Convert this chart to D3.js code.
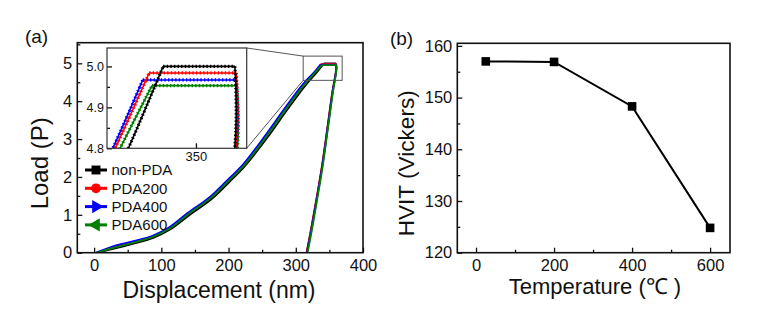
<!DOCTYPE html>
<html lang="en">
<head>
<meta charset="UTF-8">
<title>Load-displacement curves and HVIT</title>
<script src="https://cdn.jsdelivr.net/npm/d3@7"></script>
<style>
  body { margin: 0; background: #fff; }
  text { font-family: "Liberation Sans", Arial, sans-serif; fill: #111; }
</style>
</head>
<body>
<div id="container"></div>
<script>
// ---- panel (a): load vs displacement, one pair of arrays per sample ----
const nonPdaDisp = [5, 28, 63, 88, 113, 143, 177, 202, 222, 257, 286, 316, 333.1, 341.8, 359.75, 360, 354, 347, 339, 330.5, 322.5, 316]
const nonPdaLoad = [0, 0.10, 0.26, 0.39, 0.61, 1.01, 1.45, 1.88, 2.24, 3.02, 3.74, 4.45, 4.80, 5.00, 5.00, 4.85, 4.2, 3.3, 2.3, 1.4, 0.6, 0]
const pda200Disp = [4, 26, 61, 87, 111, 141, 175, 200, 220, 255, 284, 314, 329.8, 338.3, 360.1, 360.3, 354.3, 347.3, 339.3, 330.8, 322.8, 316.3]
const pda200Load = [0, 0.13, 0.295, 0.43, 0.64, 1.05, 1.49, 1.92, 2.27, 3.07, 3.79, 4.49, 4.80, 4.984, 4.984, 4.85, 4.2, 3.3, 2.3, 1.4, 0.6, 0]
const pda400Disp = [3, 25, 60, 86, 110, 140, 174, 199, 219, 254, 283, 313, 329.2, 336.7, 360.1, 360.4, 354.5, 347.6, 339.7, 331.2, 323.3, 316.8]
const pda400Load = [0, 0.15, 0.31, 0.44, 0.65, 1.06, 1.50, 1.93, 2.28, 3.08, 3.80, 4.50, 4.80, 4.967, 4.967, 4.85, 4.2, 3.3, 2.3, 1.4, 0.6, 0]
const pda600Disp = [5, 27, 62, 87, 112, 141.5, 175.5, 200.5, 220.5, 255.5, 284.5, 314.5, 331, 339, 360.2, 360.6, 355, 348, 340.2, 331.8, 324, 317.5]
const pda600Load = [0, 0.12, 0.28, 0.415, 0.63, 1.035, 1.475, 1.905, 2.255, 3.05, 3.77, 4.47, 4.80, 4.953, 4.953, 4.85, 4.2, 3.3, 2.3, 1.4, 0.6, 0]
const kneeIndex = 13 // last loading point, start of the hold plateau

const seriesNames = ["non-PDA", "PDA200", "PDA400", "PDA600"]
const seriesColors = ["#000000", "#ff0000", "#0000ff", "#008000"]

const dispTicks = [0, 100, 200, 300, 400]
const dispMinor = [50, 150, 250, 350]
const loadTicks = [0, 1, 2, 3, 4, 5]
const loadMinor = [0.5, 1.5, 2.5, 3.5, 4.5, 5.5]
const insetDispTicks = [350]
const insetLoadTicks = [4.8, 4.9, 5.0]
const insetLoadMinor = [4.85, 4.95]
// region of panel (a) that the inset enlarges
const zoomBoxDisp = [311, 369]
const zoomBoxLoad = [4.55, 5.19]

// ---- panel (b): hardness vs annealing temperature ----
const temps = [25, 200, 400, 600]
const hvit = [157.0, 156.9, 148.3, 124.8]
const tempTicks = [0, 200, 400, 600]
const tempMinor = [100, 300, 500]
const hvitTicks = [120, 130, 140, 150, 160]
const hvitMinor = [125, 135, 145, 155]

const svg = d3.select("#container").append("svg").attr("width", 760).attr("height", 326)

// inside-pointing ticks, no domain line (frame drawn separately)
function styleAxis(s, fontSize) {
    s.select(".domain").remove()
    s.selectAll("line").attr("stroke", "#111").attr("stroke-width", 1.3)
    s.selectAll("text").attr("font-size", fontSize).attr("fill", "#111").attr("font-family", "Liberation Sans, Arial, sans-serif")
}
function ticksBottom(g, scale, major, minor, y, fontSize, pad) {
    styleAxis(g.append("g").attr("transform", `translate(0,${y})`)
        .call(d3.axisBottom(scale).tickValues(major).tickSize(-5).tickPadding(pad).tickFormat(d3.format("d"))), fontSize)
    styleAxis(g.append("g").attr("transform", `translate(0,${y})`)
        .call(d3.axisBottom(scale).tickValues(minor).tickSize(-3).tickFormat("")), fontSize)
}
function ticksLeft(g, scale, major, minor, x, fontSize, pad, fmt) {
    styleAxis(g.append("g").attr("transform", `translate(${x},0)`)
        .call(d3.axisLeft(scale).tickValues(major).tickSize(-5).tickPadding(pad).tickFormat(fmt)), fontSize)
    styleAxis(g.append("g").attr("transform", `translate(${x},0)`)
        .call(d3.axisLeft(scale).tickValues(minor).tickSize(-3).tickFormat("")), fontSize)
}

// loading branch smooth, hold straight, unloading smooth
function curvePath(pts, x, y) {
    const load = d3.line().x(d => x(d[0])).y(d => y(d[1])).curve(d3.curveMonotoneX)
    const hold = d3.line().x(d => x(d[0])).y(d => y(d[1]))
    const unload = d3.line().x(d => x(d[0])).y(d => y(d[1])).curve(d3.curveCatmullRom.alpha(0.5))
    return load(pts.slice(0, kneeIndex + 1)) +
        hold(pts.slice(kneeIndex, kneeIndex + 2)) +
        unload(pts.slice(kneeIndex + 1))
}

// ================= panel (a) =================
const xA = d3.scaleLinear([-25, 400], [77.3, 363])
const yA = d3.scaleLinear([0, 5.544], [252.7, 42.7])
const gA = svg.append("g")

svg.append("clipPath").attr("id", "clipA").append("rect")
    .attr("x", 77.3).attr("y", 42.7).attr("width", 363 - 77.3).attr("height", 210)

const allSeries = [
    d3.zip(nonPdaDisp, nonPdaLoad), d3.zip(pda200Disp, pda200Load),
    d3.zip(pda400Disp, pda400Load), d3.zip(pda600Disp, pda600Load)
]
gA.append("g").attr("clip-path", "url(#clipA)")
    .selectAll("path").data(allSeries).join("path")
    .attr("d", d => curvePath(d, xA, yA))
    .attr("fill", "none").attr("stroke", (d, i) => seriesColors[i])
    .attr("stroke-width", 1.8).attr("stroke-linejoin", "round")

ticksBottom(gA, xA, dispTicks, dispMinor, 252.7, 16.5, 7)
ticksLeft(gA, yA, loadTicks, loadMinor, 77.3, 16.5, 5, d3.format("d"))
gA.append("rect").attr("x", 77.3).attr("y", 42.7).attr("width", 363 - 77.3).attr("height", 210)
    .attr("fill", "none").attr("stroke", "#111").attr("stroke-width", 1.6)

// zoom box + connectors
const zx0 = xA(zoomBoxDisp[0]), zx1 = xA(zoomBoxDisp[1])
const zy0 = yA(zoomBoxLoad[1]), zy1 = yA(zoomBoxLoad[0])
gA.append("rect").attr("x", zx0).attr("y", zy0).attr("width", zx1 - zx0).attr("height", zy1 - zy0)
    .attr("fill", "none").attr("stroke", "#555").attr("stroke-width", 1)

// inset
const xI = d3.scaleLinear([327.75, 362.7], [107, 246.7])
const yI = d3.scaleLinear([4.8, 5.045], [148.3, 48])
gA.append("line").attr("x1", 246.7).attr("y1", 48).attr("x2", zx0).attr("y2", zy0).attr("stroke", "#555").attr("stroke-width", 1)
gA.append("line").attr("x1", 246.7).attr("y1", 148.3).attr("x2", zx0).attr("y2", zy1).attr("stroke", "#555").attr("stroke-width", 1)

const gI = gA.append("g")
gI.append("rect").attr("x", 107).attr("y", 48).attr("width", 139.7).attr("height", 100.3).attr("fill", "#fff")
svg.append("clipPath").attr("id", "clipI").append("rect")
    .attr("x", 107).attr("y", 48).attr("width", 139.7).attr("height", 100.3)
const insetOrder = [3, 2, 1, 0]
const gIL = gI.append("g").attr("clip-path", "url(#clipI)")
for (const i of insetOrder) {
    const d = curvePath(allSeries[i], xI, yI)
    gIL.append("path").attr("d", d).attr("fill", "none")
        .attr("stroke", seriesColors[i]).attr("stroke-width", 1.6)
    gIL.append("path").attr("d", d).attr("fill", "none")
        .attr("stroke", seriesColors[i]).attr("stroke-width", 3.2).attr("stroke-dasharray", "1.4,2.2")
}
ticksBottom(gI, xI, insetDispTicks, [], 148.3, 13, 3)
ticksLeft(gI, yI, insetLoadTicks, insetLoadMinor, 107, 12.5, 3, d3.format(".1f"))
gI.append("rect").attr("x", 107).attr("y", 48).attr("width", 139.7).attr("height", 100.3)
    .attr("fill", "none").attr("stroke", "#333").attr("stroke-width", 1.2)

// legend
const legendSymbols = [d3.symbolSquare, d3.symbolCircle, d3.symbolTriangle, d3.symbolTriangle]
const legendRotate = [0, 0, 90, -90]
const legend = gA.append("g")
seriesNames.forEach((name, i) => {
    const ly = 170 + i * 18.3
    legend.append("line").attr("x1", 85).attr("x2", 107).attr("y1", ly).attr("y2", ly)
        .attr("stroke", seriesColors[i]).attr("stroke-width", 3)
    legend.append("path").attr("d", d3.symbol(legendSymbols[i], i === 0 ? 80 : 75)())
        .attr("transform", `translate(96,${ly}) rotate(${legendRotate[i]})`)
        .attr("fill", seriesColors[i])
    legend.append("text").attr("x", 111.5).attr("y", ly).attr("dy", "0.36em")
        .attr("font-size", 15).text(name)
})

gA.append("text").attr("x", 219).attr("y", 297.5).attr("text-anchor", "middle")
    .attr("font-size", 23).text("Displacement (nm)")
gA.append("text").attr("transform", "translate(48,163.3) rotate(-90)").attr("text-anchor", "middle")
    .attr("font-size", 24).text("Load (P)")
gA.append("text").attr("x", 36.5).attr("y", 43).attr("text-anchor", "middle")
    .attr("font-size", 19).text("(a)")

// ================= panel (b) =================
const xB = d3.scaleLinear([-48, 651], [457.3, 730])
const yB = d3.scaleLinear([120, 160.5], [252.7, 43.3])
const gB = svg.append("g")

ticksBottom(gB, xB, tempTicks, tempMinor, 252.7, 16.5, 7)
ticksLeft(gB, yB, hvitTicks, hvitMinor, 457.3, 16.5, 5, d3.format("d"))
gB.append("rect").attr("x", 457.3).attr("y", 43.3).attr("width", 730 - 457.3).attr("height", 252.7 - 43.3)
    .attr("fill", "none").attr("stroke", "#111").attr("stroke-width", 1.6)

const pointsB = d3.zip(temps, hvit)
gB.append("path").attr("d", d3.line().x(d => xB(d[0])).y(d => yB(d[1]))(pointsB))
    .attr("fill", "none").attr("stroke", "#000").attr("stroke-width", 2)
gB.selectAll("rect.pt").data(pointsB).join("rect").attr("class", "pt")
    .attr("x", d => xB(d[0]) - 4.3).attr("y", d => yB(d[1]) - 4.3)
    .attr("width", 8.6).attr("height", 8.6).attr("fill", "#000")

gB.append("text").attr("x", 595).attr("y", 293.5).attr("text-anchor", "middle")
    .attr("font-size", 22).text("Temperature (℃ )")
gB.append("text").attr("transform", "translate(414,163.3) rotate(-90)").attr("text-anchor", "middle")
    .attr("font-size", 22.6).text("HVIT (Vickers)")
gB.append("text").attr("x", 401.5).attr("y", 45).attr("text-anchor", "middle")
    .attr("font-size", 19).text("(b)")
</script>
</body>
</html>
